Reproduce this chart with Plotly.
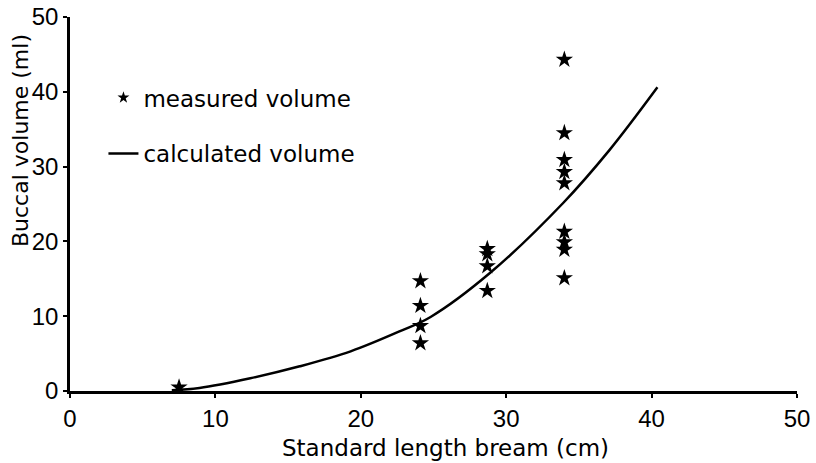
import plotly.graph_objects as go

# measured volume (stars)
meas_x = [7.5,
          24.1, 24.1, 24.1, 24.1,
          28.7, 28.7, 28.7, 28.7,
          34.0, 34.0, 34.0, 34.0, 34.0, 34.0, 34.0, 34.0, 34.0]
meas_y = [0.5,
          14.7, 11.4, 8.7, 6.4,
          19.0, 18.3, 16.7, 13.4,
          44.3, 34.5, 30.9, 29.3, 27.8, 21.3, 19.9, 18.9, 15.1]

# calculated volume (curve)
calc_x = [7.0, 8.9, 12.4, 15.8, 19.3, 22.7, 24.8, 28.9, 33.9, 37.1, 40.4]
calc_y = [0.1, 0.4, 1.7, 3.3, 5.3, 8.0, 9.9, 15.8, 25.1, 32.2, 40.6]

x_ticks = [0, 10, 20, 30, 40, 50]
y_ticks = [0, 10, 20, 30, 40, 50]

x_title = "Standard length bream (cm)"
y_title = "Buccal volume (ml)"

TICKFONT = "Liberation Sans, Arial, sans-serif"
TEXTFONT = "DejaVu Sans, sans-serif"

fig = go.Figure()
fig.add_trace(go.Scatter(
    x=meas_x, y=meas_y, mode="markers", name="measured volume",
    marker=dict(symbol="star", size=13, color="black", line=dict(width=0)),
    showlegend=False,
))
# legend entry for the stars (smaller symbol, as in the original key)
fig.add_trace(go.Scatter(
    x=[None], y=[None], mode="markers", name="measured volume",
    marker=dict(symbol="star", size=9, color="black", line=dict(width=0)),
    legendgroup="a",
))
fig.add_trace(go.Scatter(
    x=calc_x, y=calc_y, mode="lines", name="calculated volume",
    line=dict(color="black", width=2.5, shape="spline"),
    legendgroup="b",
))

axis_common = dict(
    showline=True, linecolor="black", linewidth=2.5,
    ticks="outside", ticklen=4, tickwidth=2, tickcolor="black",
    showgrid=False, zeroline=False, mirror=False, automargin=False,
    ticklabeloverflow="allow",
    tickfont=dict(family=TICKFONT, size=24, color="black"),
)

fig.update_layout(
    width=816, height=463,
    margin=dict(l=70, r=19, t=17, b=72, autoexpand=False),
    paper_bgcolor="white", plot_bgcolor="white",
    font=dict(family=TEXTFONT, size=23, color="black"),
    xaxis=dict(range=[0, 50], tickvals=x_ticks, **axis_common),
    yaxis=dict(range=[0, 50], tickvals=y_ticks, **axis_common),
    legend=dict(x=0.046, y=0.842, xanchor="left", yanchor="top",
                bgcolor="rgba(0,0,0,0)", font=dict(family=TEXTFONT, size=23),
                traceorder="grouped", tracegroupgap=23),
    showlegend=True,
    annotations=[
        dict(text=x_title, xref="paper", yref="paper", x=0.517, y=-0.152,
             xanchor="center", yanchor="middle", showarrow=False,
             font=dict(family=TEXTFONT, size=23, color="black")),
        dict(text=y_title, xref="paper", yref="paper", x=-0.0688, y=0.671,
             xanchor="center", yanchor="middle", showarrow=False, textangle=-90,
             font=dict(family=TEXTFONT, size=22, color="black")),
    ],
)

# remove the default 8px page margin so the figure fills the window exactly
fig.write_html("out.html", config={"displayModeBar": False},
               post_script="document.body.style.margin='0px';")
